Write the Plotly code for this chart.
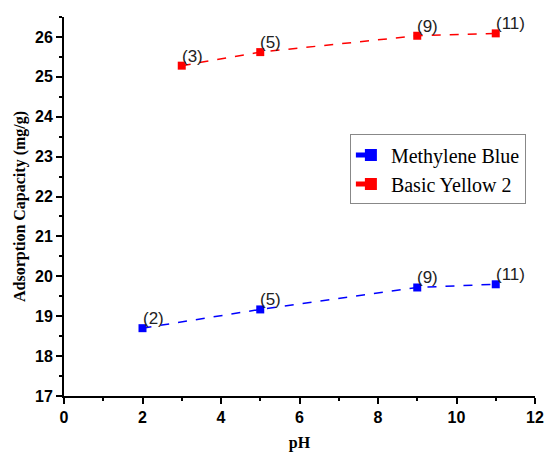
import plotly.graph_objects as go

ph_mb = [2, 5, 9, 11]
cap_mb = [18.7, 19.17, 19.72, 19.8]
ph_by = [3, 5, 9, 11]
cap_by = [25.28, 25.62, 26.03, 26.09]
series_names = ["Methylene Blue", "Basic Yellow 2"]
colors = ["#0000ff", "#ff0000"]

fig = go.Figure()
for name, xs, ys, c in [(series_names[0], ph_mb, cap_mb, colors[0]),
                        (series_names[1], ph_by, cap_by, colors[1])]:
    fig.add_trace(go.Scatter(
        x=xs, y=ys, mode="lines+markers", name=name,
        line=dict(color=c, dash="dash", width=1.5),
        marker=dict(symbol="square", size=8, color=c),
    ))
    for xv, yv in zip(xs, ys):
        fig.add_annotation(x=xv, y=yv, text=f"({xv})", showarrow=False,
                           xanchor="left", yanchor="bottom", xshift=-2, yshift=-2,
                           font=dict(family="Liberation Sans, Arial", size=17, color="#222"))

axis_common = dict(
    showline=True, linecolor="black", linewidth=2, mirror=False,
    ticks="outside", ticklen=6, tickwidth=1.5, tickcolor="black",
    showgrid=False, zeroline=False, automargin=False,
    tickfont=dict(family="Liberation Sans, Arial", size=16, color="black", weight="bold"),
)
fig.update_xaxes(range=[0, 12], dtick=2, tick0=0,
                 minor=dict(ticks="outside", dtick=1, ticklen=3, tickcolor="black", tickwidth=1.5),
                 title=dict(text="pH", standoff=18,
                            font=dict(family="Liberation Serif, Times New Roman", size=16, color="black", weight="bold")),
                 **axis_common)
fig.update_yaxes(range=[17, 26.5], dtick=1, tick0=17,
                 minor=dict(ticks="outside", dtick=0.5, ticklen=3, tickcolor="black", tickwidth=1.5),
                 title=dict(text="Adsorption Capacity (mg/g)", standoff=5,
                            font=dict(family="Liberation Serif, Times New Roman", size=16, color="black", weight="bold")),
                 **axis_common)

fig.update_layout(
    width=544, height=452,
    margin=dict(l=64, r=9, t=17, b=56),
    plot_bgcolor="white", paper_bgcolor="white",
    showlegend=True,
    legend=dict(x=0.607, y=0.69, xanchor="left", yanchor="top",
                bordercolor="#888", borderwidth=1, bgcolor="white",
                font=dict(family="Liberation Serif, Times New Roman", size=20, color="black"),
                tracegroupgap=0, itemsizing="constant"),
)
fig.write_html("out.html")
